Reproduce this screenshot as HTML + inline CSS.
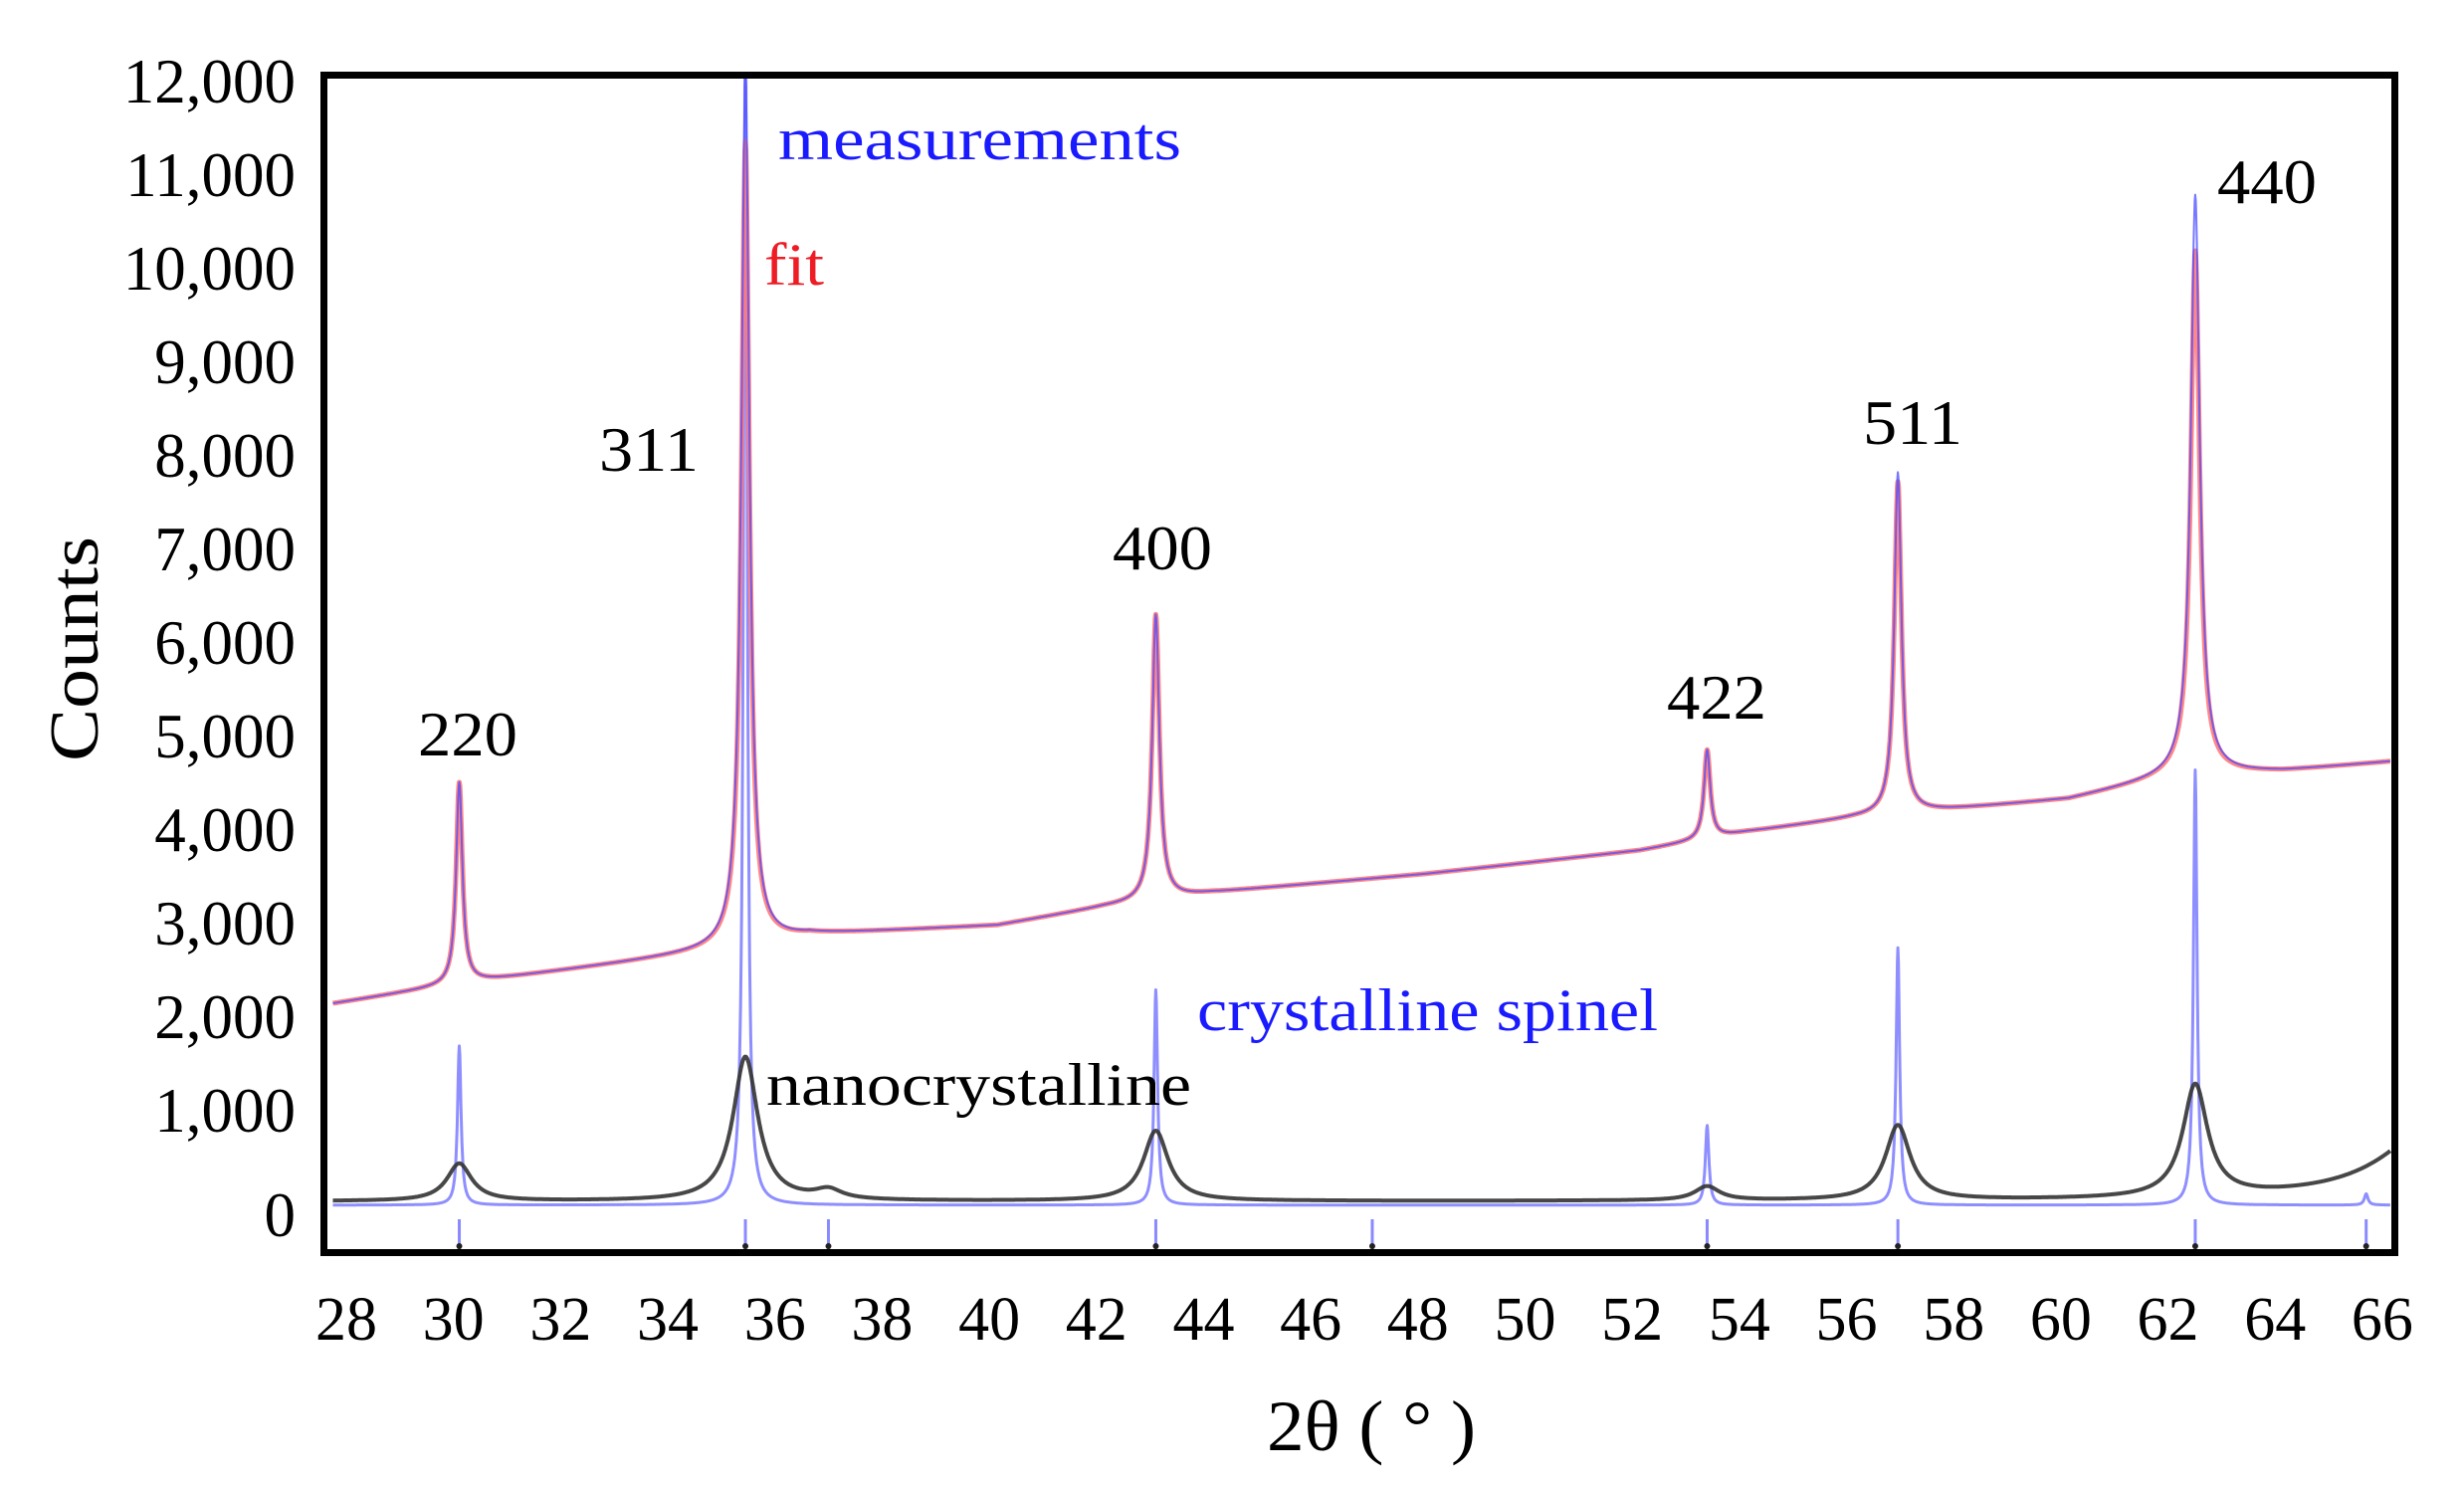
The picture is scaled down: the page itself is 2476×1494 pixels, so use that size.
<!DOCTYPE html>
<html><head><meta charset="utf-8"><style>
html,body{margin:0;padding:0;background:#fff;}
svg{display:block;font-family:"Liberation Serif",serif;}
</style></head><body>
<svg id="chart" width="2476" height="1494" viewBox="0 0 2476 1494" xmlns="http://www.w3.org/2000/svg">
<g id="curves"></g>
<rect x="325.5" y="75.5" width="2081" height="1183" fill="none" stroke="#000" stroke-width="7"/>
<g id="axes"></g>
<text transform="translate(98,652) rotate(-90)" text-anchor="middle" font-size="70" textLength="226" lengthAdjust="spacingAndGlyphs">Counts</text>
<text x="1378" y="1457" text-anchor="middle" font-size="72" textLength="210" lengthAdjust="spacingAndGlyphs">2θ ( ° )</text>
<text x="782" y="160" font-size="60" fill="#1a1aff" textLength="405" lengthAdjust="spacingAndGlyphs">measurements</text>
<text x="768" y="286" font-size="60" fill="#ee1c25" textLength="60" lengthAdjust="spacingAndGlyphs">fit</text>
<text x="1203" y="1035" font-size="60" fill="#1a1aff" textLength="463" lengthAdjust="spacingAndGlyphs">crystalline spinel</text>
<text x="770" y="1110" font-size="60" fill="#000" textLength="427" lengthAdjust="spacingAndGlyphs">nanocrystalline</text>
<g id="hkl"></g>
</svg>
<script>
const xTicks=[28,30,32,34,36,38,40,42,44,46,48,50,52,54,56,58,60,62,64,66];
const yTicks=[0,1000,2000,3000,4000,5000,6000,7000,8000,9000,10000,11000,12000];
const yTickLabels=["0","1,000","2,000","3,000","4,000","5,000","6,000","7,000","8,000","9,000","10,000","11,000","12,000"];
// measured pattern: background points + peaks
const bgX=[28,30,33,35,36.5,40,42,44,48,52,54,56,58,60,62,64,66];
const bgY=[2150,2330,2550,2700,2850,2950,3150,3300,3500,3750,3950,4100,4200,4300,4550,4600,4700];
const peakPos=[29.96,35.30,42.96,53.25,56.81,62.36];
const measHeights=[2150,9300,3050,950,3650,6200];
const fitHeights=[2150,8600,3050,950,3550,5600];
const measWidths=[0.07,0.09,0.08,0.07,0.08,0.1];
const hklLabels=["220","311","400","422","511","440"];
// nanocrystalline component
const nanoPos=[29.96,35.30,36.85,42.96,53.25,56.81,62.36,67.0];
const nanoHeights=[400,1540,100,750,150,800,1200,900];
const nanoWidths=[0.28,0.28,0.3,0.28,0.28,0.28,0.28,1.2];
// crystalline spinel component
const crysPos=[29.96,35.30,42.96,53.25,56.81,62.36,65.55];
const crysHeights=[1700,13000,2300,850,2750,4650,120];
const crysWidths=[0.04,0.04,0.04,0.04,0.04,0.04,0.04];
const reflPos=[29.96,35.30,36.85,42.96,47.0,53.25,56.81,62.36,65.55];

const NS="http://www.w3.org/2000/svg";
function X(v){return 356+(v-28)*53.84;}
function Y(v){return 1207-v*0.094;}
function bg(x){for(let i=0;i<bgX.length-1;i++){if(x<=bgX[i+1]){const t=(x-bgX[i])/(bgX[i+1]-bgX[i]);return bgY[i]+t*(bgY[i+1]-bgY[i]);}}return bgY[bgY.length-1];}
function peaks(x,p,h,w){let s=0;for(let i=0;i<p.length;i++){const d=(x-p[i])/w[i];s+=h[i]/(1+d*d);}return s;}
function path(fn){let d="";for(let x=27.6;x<=66.0001;x+=0.01){let y=Math.max(Y(fn(x)),79);d+=(d?"L":"M")+X(x).toFixed(1)+","+y.toFixed(1);}return d;}
const g=document.getElementById('curves');
function addPath(d,stroke,w,op,name){const p=document.createElementNS(NS,'path');p.setAttribute('d',d);p.setAttribute('fill','none');p.setAttribute('stroke',stroke);p.setAttribute('stroke-width',w);p.setAttribute('opacity',op);p.setAttribute('stroke-linejoin','round');


g.appendChild(p);}
const clip=document.createElementNS(NS,'clipPath');clip.setAttribute('id','pc');const cr=document.createElementNS(NS,'rect');cr.setAttribute('x',329);cr.setAttribute('y',79);cr.setAttribute('width',2074);cr.setAttribute('height',1176);clip.appendChild(cr);document.getElementById('chart').appendChild(clip);
g.setAttribute('clip-path','url(#pc)');
// reflection ticks
reflPos.forEach(p=>{const l=document.createElementNS(NS,'line');l.setAttribute('x1',X(p));l.setAttribute('x2',X(p));l.setAttribute('y1',1225);l.setAttribute('y2',1255);l.setAttribute('stroke','#8a8aff');l.setAttribute('stroke-width',3);


g.appendChild(l);
const c=document.createElementNS(NS,'circle');c.setAttribute('cx',X(p));c.setAttribute('cy',1252);c.setAttribute('r',3);c.setAttribute('fill','#222');


g.appendChild(c);});
addPath(path(x=>peaks(x,crysPos,crysHeights,crysWidths)-40),'#7a7aff',3,0.85,'crystalline-spinel-curve');
addPath(path(x=>peaks(x,nanoPos,nanoHeights,nanoWidths)),'#333',4,0.9,'nanocrystalline-curve');
addPath(path(x=>bg(x)+peaks(x,peakPos,fitHeights,measWidths)),'#ff7a7a',5,0.9,'fit-curve');
addPath(path(x=>bg(x)+peaks(x,peakPos,measHeights,measWidths)),'#4a4aff',2,0.75,'measurements-curve');
// axes
const ax=document.getElementById('axes');
xTicks.forEach(v=>{const t=document.createElementNS(NS,'text');t.setAttribute('x',X(v)-8);t.setAttribute('y',1346);t.setAttribute('text-anchor','middle');t.setAttribute('font-size','62');t.textContent=v;


ax.appendChild(t);});
yTicks.forEach((v,i)=>{const t=document.createElementNS(NS,'text');t.setAttribute('x',297);t.setAttribute('y',(v===0?1221:Y(v)+3)+21);t.setAttribute('text-anchor','end');t.setAttribute('font-size','63');t.textContent=yTickLabels[i];


ax.appendChild(t);});
const hklXY=[[470,759],[652,473],[1168,572],[1725,722],[1922,446],[2278,204]];
const hg=document.getElementById('hkl');
hklLabels.forEach((s,i)=>{const t=document.createElementNS(NS,'text');t.setAttribute('x',hklXY[i][0]);t.setAttribute('y',hklXY[i][1]);t.setAttribute('text-anchor','middle');t.setAttribute('font-size','64');t.setAttribute('textLength','100');t.setAttribute('lengthAdjust','spacingAndGlyphs');t.textContent=s;


hg.appendChild(t);});
</script>
</body></html>
